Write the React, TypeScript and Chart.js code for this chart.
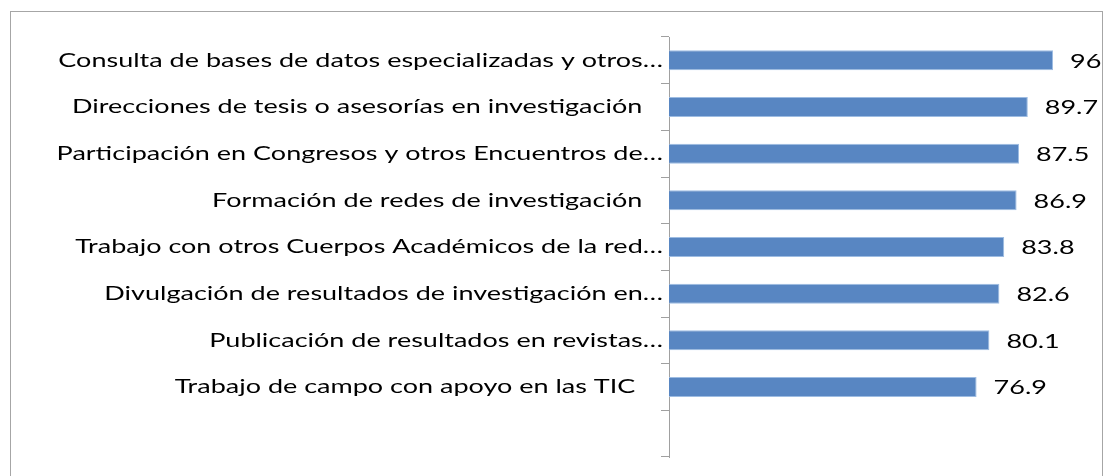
import React, { useEffect, useRef } from "react";
import { Chart, registerables } from "chart.js";

Chart.register(...registerables);

const categories: string[] = [
  "Consulta de bases de datos especializadas y otros…",
  "Direcciones de tesis o asesorías en investigación   ",
  "Participación en Congresos y otros Encuentros de…",
  "Formación de redes de investigación   ",
  "Trabajo con otros Cuerpos Académicos de la red…",
  "Divulgación de resultados de investigación en…",
  "Publicación de resultados en revistas…",
  "Trabajo de campo con apoyo en las TIC    ",
  "",
];

const values: (number | null)[] = [96, 89.7, 87.5, 86.9, 83.8, 82.6, 80.1, 76.9, null];

const axisMin = 0;
const axisMax = 100;

const FONT = "Lato";
const FONT_SIZE = 20;
const STRETCH = 1.35;

const framePlugin = {
  id: "frame",
  beforeDraw(chart: any) {
    const ctx = chart.ctx;
    ctx.save();
    ctx.fillStyle = "#ffffff";
    ctx.fillRect(0, 0, chart.width, chart.height);
    ctx.strokeStyle = "#a6a6a6";
    ctx.lineWidth = 1;
    ctx.strokeRect(10.5, 11.5, 1092, 500);
    ctx.restore();
  },
};

const textPlugin = {
  id: "stretchedText",
  afterDatasetsDraw(chart: any) {
    const ctx = chart.ctx;
    const yScale = chart.scales.y;
    const meta = chart.getDatasetMeta(0);
    ctx.save();
    ctx.font = `${FONT_SIZE}px ${FONT}`;
    ctx.fillStyle = "#000000";
    ctx.textBaseline = "middle";
    // category labels
    const labels: string[] = chart.data.labels;
    labels.forEach((label: string, i: number) => {
      if (!label) return;
      const y = yScale.getPixelForValue(i);
      ctx.save();
      ctx.translate(yScale.right - 6, y);
      ctx.scale(STRETCH, 1);
      ctx.textAlign = "right";
      ctx.fillText(label, 0, 0);
      ctx.restore();
    });
    // value labels
    meta.data.forEach((bar: any, i: number) => {
      const v = values[i];
      if (v === null || v === undefined) return;
      ctx.save();
      ctx.translate(bar.x + 17, bar.y + 1);
      ctx.scale(STRETCH, 1);
      ctx.textAlign = "left";
      ctx.fillText(String(v), 0, 0);
      ctx.restore();
    });
    ctx.restore();
  },
};

export default function App() {
  const ref = useRef<HTMLCanvasElement | null>(null);

  useEffect(() => {
    if (!ref.current) return;
    const chart = new Chart(ref.current, {
      type: "bar",
      data: {
        labels: categories,
        datasets: [
          {
            data: values,
            backgroundColor: "#5886c2",
            borderColor: "#9dbce2",
            borderWidth: 1,
            barPercentage: 0.43,
            categoryPercentage: 1,
          },
        ],
      },
      options: {
        indexAxis: "y",
        animation: false,
        responsive: false,
        maintainAspectRatio: false,
        layout: { padding: { left: 0, top: 37, right: 35, bottom: 19 } },
        plugins: {
          legend: { display: false },
          tooltip: { enabled: false },
        },
        scales: {
          x: {
            display: false,
            min: axisMin,
            max: axisMax,
          },
          y: {
            afterFit: (scale: any) => {
              scale.width = 669;
            },
            grid: {
              display: true,
              drawOnChartArea: false,
              drawTicks: true,
              tickLength: 8,
              color: "#a0a0a0",
              offset: true,
            },
            border: { display: true, color: "#a0a0a0", width: 1 },
            ticks: {
              display: false,
              font: { family: FONT, size: FONT_SIZE },
              autoSkip: false,
            },
          },
        },
      },
      plugins: [framePlugin, textPlugin],
    });
    return () => chart.destroy();
  }, []);

  return (
    <div style={{ position: "fixed", left: 0, top: 0, width: 1104, height: 476, overflow: "hidden" }}>
      <canvas ref={ref} width={1104} height={476} style={{ display: "block", width: 1104, height: 476 }} />
    </div>
  );
}
